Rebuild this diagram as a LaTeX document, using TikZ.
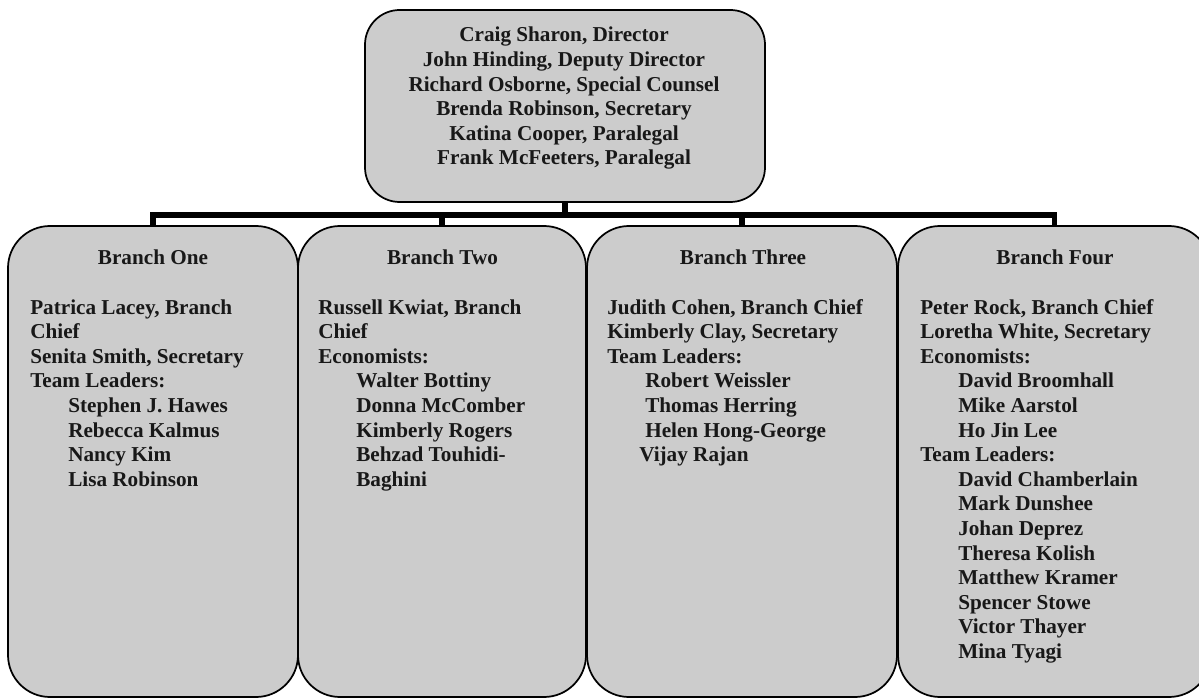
\documentclass[tikz,border=0pt]{standalone}
\usepackage{fontspec}
\setmainfont{Liberation Serif}
\definecolor{boxgray}{RGB}{204,204,204}
\definecolor{ink}{RGB}{24,24,24}
\newcommand\indl{\hspace*{28.5pt}}
\begin{document}
\begin{tikzpicture}[x=0.75pt,y=-0.75pt,
  box/.style={draw=black, line width=1.3pt, fill=boxgray, inner sep=0pt},
  txt/.style={font=\fontsize{15.9}{18.45}\selectfont\bfseries, text=ink, inner sep=0pt},
  conn/.style={line width=4.3pt, draw=black, line join=miter}]
\useasboundingbox (0,0) rectangle (1199,698);
\fill[white] (0,0) rectangle (1199,698);
\clip (0,0) rectangle (1199,698);
% boxes
\node[box, rounded corners=26pt, minimum width=300pt, minimum height=144pt] (top) at (565,106) {};
\node[box, rounded corners=31.5pt, minimum width=217.5pt, minimum height=353.25pt] (b1) at (153,461.5) {};
\node[box, rounded corners=31.5pt, minimum width=216pt, minimum height=353.25pt] (b2) at (442,461.5) {};
\node[box, rounded corners=31.5pt, minimum width=232.5pt, minimum height=353.25pt] (b3) at (742,461.5) {};
\node[box, rounded corners=31.5pt, minimum width=234.75pt, minimum height=353.25pt] (b4) at (1054.5,461.5) {};
% connectors
\coordinate (bar) at (0,215);
\draw[conn] (b1.north) -- (b1.north |- bar) -- (b4.north |- bar) -- (b4.north);
\draw[conn] (top.south) -- (top.south |- bar);
\draw[conn] (b2.north |- bar) -- (b2.north);
\draw[conn] (b3.north |- bar) -- (b3.north);
% top text (base anchor = last line)
\node[txt, align=center, anchor=base] (toptext) at (564,165)
  {Craig Sharon, Director\\John Hinding, Deputy Director\\Richard Osborne, Special Counsel\\Brenda Robinson, Secretary\\Katina Cooper, Paralegal\\Frank McFeeters, Paralegal};
% titles
\node[txt, anchor=base] (t1) at (153,264.5) {Branch One};
\node[txt, anchor=base] (t2) at (442.5,264.5) {Branch Two};
\node[txt, anchor=base] (t3) at (743,264.5) {Branch Three};
\node[txt, anchor=base] (t4) at (1055,264.5) {Branch Four};
% bodies (base anchor = last line)
\node[txt, align=left, anchor=base west] (p1) at (30,486.2)
  {Patrica Lacey, Branch\\Chief\\Senita Smith, Secretary\\Team Leaders:\\\indl Stephen J. Hawes\\\indl Rebecca Kalmus\\\indl Nancy Kim\\\indl Lisa Robinson};
\node[txt, align=left, anchor=base west] (p2) at (318,486.2)
  {Russell Kwiat, Branch\\Chief\\Economists:\\\indl Walter Bottiny\\\indl Donna McComber\\\indl Kimberly Rogers\\\indl Behzad Touhidi-\\\indl Baghini};
\node[txt, align=left, anchor=base west] (p3) at (607,461.6)
  {Judith Cohen, Branch Chief\\Kimberly Clay, Secretary\\Team Leaders:\\\indl Robert Weissler\\\indl Thomas Herring\\\indl Helen Hong-George\\\hspace*{24pt}Vijay Rajan};
\node[txt, align=left, anchor=base west] (p4) at (920,658.4)
  {Peter Rock, Branch Chief\\Loretha White, Secretary\\Economists:\\\indl David Broomhall\\\indl Mike Aarstol\\\indl Ho Jin Lee\\Team Leaders:\\\indl David Chamberlain\\\indl Mark Dunshee\\\indl Johan Deprez\\\indl Theresa Kolish\\\indl Matthew Kramer\\\indl Spencer Stowe\\\indl Victor Thayer\\\indl Mina Tyagi};
\end{tikzpicture}
\end{document}
